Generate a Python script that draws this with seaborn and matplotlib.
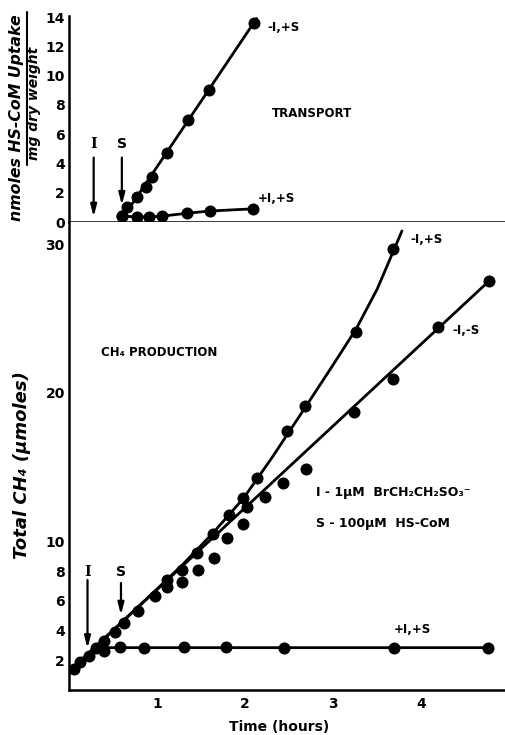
import matplotlib
matplotlib.use("Agg")
import matplotlib.pyplot as plt
import seaborn as sns
import pandas as pd
from matplotlib.ticker import FixedLocator, FixedFormatter, NullFormatter
from matplotlib.lines import Line2D

# ---------------- data: TRANSPORT panel (upper) ----------------
tr_minusI_time = [0.60, 0.66, 0.77, 0.87, 0.94, 1.11, 1.35, 1.59, 2.10]
tr_minusI_uptake = [0.4, 1.0, 1.7, 2.4, 3.1, 4.7, 7.0, 9.0, 13.6]
tr_minusI_line_time = [0.59, 2.13]
tr_minusI_line_uptake = [0.1, 13.9]
tr_plusI_time = [0.60, 0.77, 0.91, 1.06, 1.34, 1.60, 2.09]
tr_plusI_uptake = [0.4, 0.35, 0.35, 0.4, 0.6, 0.75, 0.9]

# ---------------- data: CH4 PRODUCTION panel (lower) ----------------
ch4_plusI_time = [0.06, 0.13, 0.23, 0.31, 0.40, 0.58, 0.85, 1.31, 1.78, 2.44, 3.69, 4.76]
ch4_plusI_val = [1.4, 1.9, 2.3, 2.8, 2.6, 2.9, 2.85, 2.9, 2.9, 2.85, 2.85, 2.85]
ch4_plusI_line_time = [0.0, 0.33, 4.77]
ch4_plusI_line_val = [1.25, 2.85, 2.85]

ch4_minusS_time = [0.40, 0.52, 0.62, 0.78, 0.98, 1.11, 1.28, 1.46, 1.65, 1.79, 1.98,
                   2.02, 2.22, 2.43, 2.69, 3.24, 3.68, 4.19, 4.77]
ch4_minusS_val = [3.3, 3.9, 4.5, 5.3, 6.3, 6.9, 7.3, 8.1, 8.9, 10.2, 11.2,
                  12.3, 13.0, 13.9, 14.9, 18.7, 20.9, 24.4, 27.5]
ch4_minusS_line_time = [0.0, 4.80]
ch4_minusS_line_val = [1.25, 27.7]

ch4_plusS_time = [1.11, 1.28, 1.45, 1.64, 1.82, 1.98, 2.14, 2.47, 2.68, 3.26, 3.68]
ch4_plusS_val = [7.4, 8.1, 9.2, 10.5, 11.8, 12.9, 14.3, 17.4, 19.1, 24.1, 29.7]
ch4_plusS_line_time = [0.0, 1.0, 1.3, 1.64, 1.98, 2.3, 2.68, 3.0, 3.26, 3.5, 3.68, 3.78]
ch4_plusS_line_val = [1.25, 6.8, 8.5, 10.6, 12.9, 15.6, 19.0, 21.9, 24.3, 27.0, 29.5, 30.9]

# event markers (hours)
upper_I_time, upper_S_time = 0.28, 0.60
lower_I_time, lower_S_time = 0.21, 0.59

x_major = [1, 2, 3, 4]
x_minor = [1/3, 2/3, 4/3, 5/3, 7/3, 8/3, 10/3, 11/3, 13/3, 14/3]
upper_yticks = [0, 2, 4, 6, 8, 10, 12, 14]
lower_yticks = [2, 4, 6, 8, 10, 12, 14, 16, 18, 20, 22, 24, 26, 28, 30]
lower_ylabels = ["2", "4", "6", "8", "10", "", "", "", "", "20", "", "", "", "", "30"]

sns.set_style("white")
plt.rcParams["font.family"] = ["DejaVu Sans"]
plt.rcParams["font.weight"] = "bold"
plt.rcParams["text.color"] = "black"
plt.rcParams["axes.labelcolor"] = "black"
plt.rcParams["xtick.color"] = "black"
plt.rcParams["ytick.color"] = "black"

fig = plt.figure(figsize=(5.06, 7.35), dpi=100)
W, H = 506, 735
axL, axR = 69 / W, 505 / W
ax1 = fig.add_axes([axL, 1 - 222 / H, axR - axL, (222 - 15.6) / H])
ax2 = fig.add_axes([axL, 1 - 690 / H, axR - axL, (690 - 222) / H])

lw = 2.0
ms = 75

def draw(ax, tx, ty, lx=None, ly=None):
    if lx is not None:
        sns.lineplot(x=lx, y=ly, ax=ax, color="black", lw=lw, sort=False,
                     estimator=None, legend=False)
    sns.scatterplot(x=tx, y=ty, ax=ax, color="black", s=ms, edgecolor="black",
                    linewidth=0, legend=False, zorder=3)

# upper panel
draw(ax1, tr_minusI_time, tr_minusI_uptake, tr_minusI_line_time, tr_minusI_line_uptake)
draw(ax1, tr_plusI_time, tr_plusI_uptake, tr_plusI_time, tr_plusI_uptake)

# lower panel
draw(ax2, ch4_plusI_time, ch4_plusI_val, ch4_plusI_line_time, ch4_plusI_line_val)
draw(ax2, ch4_minusS_time, ch4_minusS_val, ch4_minusS_line_time, ch4_minusS_line_val)
draw(ax2, ch4_plusS_time, ch4_plusS_val, ch4_plusS_line_time, ch4_plusS_line_val)

for ax in (ax1, ax2):
    ax.set_xlim(0, 4.95)
    ax.set_facecolor("white")
    for s in ("top", "right"):
        ax.spines[s].set_visible(False)
    for s in ("left", "bottom"):
        ax.spines[s].set_linewidth(1.8)
        ax.spines[s].set_color("black")
    ax.xaxis.set_major_locator(FixedLocator(x_major))
    ax.xaxis.set_minor_locator(FixedLocator(x_minor))
    ax.tick_params(axis="x", which="major", direction="in", length=9, width=1.5,
                   labelsize=10, pad=5, colors="black")
    ax.tick_params(axis="x", which="minor", direction="in", length=6, width=1.5,
                   colors="black")
    ax.tick_params(axis="y", which="major", direction="in", length=8, width=1.5,
                   labelsize=10, pad=3, colors="black")
    ax.set_xlabel("")
    ax.set_ylabel("")

ax1.set_ylim(0, 14.1)
ax1.yaxis.set_major_locator(FixedLocator(upper_yticks))
ax1.xaxis.set_major_formatter(NullFormatter())
ax2.set_ylim(0, 31.5)
ax2.yaxis.set_major_locator(FixedLocator(lower_yticks))
ax2.yaxis.set_major_formatter(FixedFormatter(lower_ylabels))
for lab in ax1.get_yticklabels() + ax2.get_yticklabels() + ax2.get_xticklabels():
    lab.set_fontweight("bold")

arrow = dict(arrowstyle="-|>,head_length=0.7,head_width=0.18", color="black", lw=1.6,
             shrinkA=0, shrinkB=0)
# upper arrows
ax1.annotate("", xy=(upper_I_time, 0.35), xytext=(upper_I_time, 4.4), arrowprops=arrow)
ax1.annotate("", xy=(upper_S_time, 1.15), xytext=(upper_S_time, 4.4), arrowprops=arrow)
ax1.text(upper_I_time, 5.3, "I", ha="center", va="center", fontsize=10,
         fontweight="bold", family="DejaVu Serif")
ax1.text(upper_S_time, 5.3, "S", ha="center", va="center", fontsize=10, fontweight="bold")
# lower arrows
ax2.annotate("", xy=(lower_I_time, 2.8), xytext=(lower_I_time, 7.4), arrowprops=arrow)
ax2.annotate("", xy=(lower_S_time, 5.05), xytext=(lower_S_time, 7.2), arrowprops=arrow)
ax2.text(lower_I_time, 7.95, "I", ha="center", va="center", fontsize=10,
         fontweight="bold", family="DejaVu Serif")
ax2.text(lower_S_time, 7.95, "S", ha="center", va="center", fontsize=10, fontweight="bold")

fs = 8.5
ax1.text(2.25, 13.3, "-I,+S", ha="left", va="center", fontsize=fs, fontweight="bold")
ax1.text(2.14, 1.6, "+I,+S", ha="left", va="center", fontsize=fs, fontweight="bold")
ax1.text(2.30, 7.4, "TRANSPORT", ha="left", va="center", fontsize=fs, fontweight="bold")

ax2.text(3.88, 30.3, "-I,+S", ha="left", va="center", fontsize=fs, fontweight="bold")
ax2.text(4.35, 24.2, "-I,-S", ha="left", va="center", fontsize=fs, fontweight="bold")
ax2.text(3.69, 4.1, "+I,+S", ha="left", va="center", fontsize=fs, fontweight="bold")
ax2.text(0.36, 22.7, "CH₄ PRODUCTION", ha="left", va="center", fontsize=fs, fontweight="bold")
ax2.text(2.80, 13.3, "I - 1μM  BrCH₂CH₂SO₃⁻", ha="left", va="center", fontsize=fs + 0.5,
         fontweight="bold")
ax2.text(2.80, 11.2, "S - 100μM  HS-CoM", ha="left", va="center", fontsize=fs + 0.5,
         fontweight="bold")

# axis labels
fig.text(279 / W, 1 - 727 / H, "Time (hours)", ha="center", va="center", fontsize=10,
         fontweight="bold")
fig.text(22 / W, 1 - 465 / H, "Total CH₄ (μmoles)", ha="center", va="center",
         rotation=90, fontsize=13, fontstyle="italic", fontweight="bold")
fig.text(17 / W, 1 - 118 / H, "nmoles HS-CoM Uptake", ha="center", va="center",
         rotation=90, fontsize=11.3, fontstyle="italic", fontweight="bold")
fig.text(34 / W, 1 - 103 / H, "mg dry weight", ha="center", va="center",
         rotation=90, fontsize=10, fontstyle="italic", fontweight="bold")
fig.add_artist(Line2D([26.5 / W, 26.5 / W], [1 - 12 / H, 1 - 165 / H], color="black",
                      lw=1.5, transform=fig.transFigure))

fig.savefig("out.png", dpi=100, facecolor="white")
